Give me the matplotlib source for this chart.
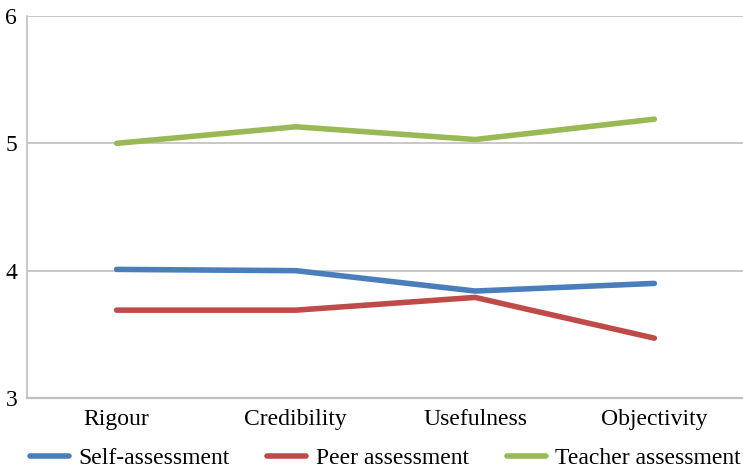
import matplotlib.pyplot as plt

categories = ["Rigour", "Credibility", "Usefulness", "Objectivity"]
self_assessment = [4.01, 4.00, 3.84, 3.90]
peer_assessment = [3.69, 3.69, 3.79, 3.47]
teacher_assessment = [5.00, 5.13, 5.03, 5.19]
y_ticks = [3, 4, 5, 6]

plt.rcParams['font.family'] = ['Liberation Serif', 'DejaVu Serif']

fig = plt.figure(figsize=(7.43, 4.71), dpi=100)
ax = fig.add_axes([0.0363, 0.155, 0.965, 0.811])

x = list(range(len(categories)))
series = [
    ("Self-assessment", self_assessment, "#4A7EBB"),
    ("Peer assessment", peer_assessment, "#BE4B48"),
    ("Teacher assessment", teacher_assessment, "#98B954"),
]
for label, vals, color in series:
    ax.plot(x, vals, color=color, lw=4.0, solid_capstyle='round', label=label, zorder=3)

ax.set_xlim(-0.5, len(categories) - 0.5)
ax.set_ylim(3, 6)
ax.set_yticks(y_ticks)
ax.set_xticks(x)
ax.set_xticklabels(categories)
ax.tick_params(axis='both', length=0, labelsize=17, colors='black')
ax.tick_params(axis='x', pad=8)
ax.tick_params(axis='y', pad=7)
ax.grid(axis='y', color='#BFBFBF', lw=1.2, zorder=1)
for side in ['top', 'right']:
    ax.spines[side].set_visible(False)
ax.spines['left'].set_color('#BFBFBF')
ax.spines['left'].set_linewidth(1.2)
ax.spines['bottom'].set_color('#BFBFBF')
ax.spines['bottom'].set_linewidth(1.6)

fig.legend(loc='center left', bbox_to_anchor=(0.0404, 0.027), ncol=3, frameon=False,
           fontsize=17, handlelength=1.65, handletextpad=0.4, columnspacing=1.6,
           borderaxespad=0, borderpad=0)

fig.savefig("out.png", dpi=100)
